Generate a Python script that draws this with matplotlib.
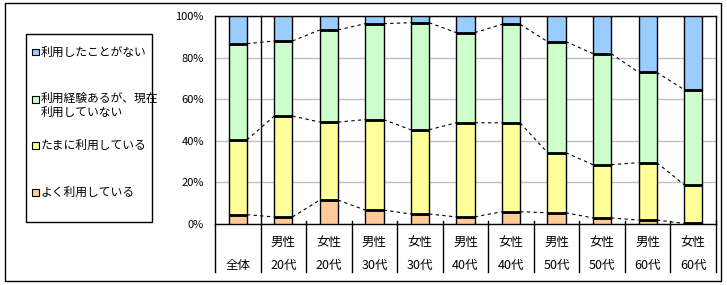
import numpy as np
import matplotlib
matplotlib.use("Agg")
import matplotlib.pyplot as plt
from matplotlib.patches import Rectangle

plt.rcParams['font.family'] = ['Noto Sans CJK JP', 'DejaVu Sans']

# data (percent)
top_labels = ["", "男性", "女性", "男性", "女性", "男性", "女性", "男性", "女性", "男性", "女性"]
bottom_labels = ["全体", "20代", "20代", "30代", "30代", "40代", "40代", "50代", "50代", "60代", "60代"]
series_names = ["よく利用している", "たまに利用している", "利用経験あるが、現在\n利用していない", "利用したことがない"]
yoku = [4.5, 3.4, 11.5, 6.7, 4.8, 3.4, 5.9, 5.4, 2.9, 1.9, 0.3]
tamani = [35.9, 48.5, 37.5, 43.5, 40.5, 45.3, 42.7, 28.9, 25.6, 27.6, 18.6]
keiken = [46.3, 36.1, 44.3, 46.1, 51.5, 43.3, 47.4, 53.4, 53.4, 43.4, 45.7]
nai = [13.3, 12.0, 6.7, 3.7, 3.2, 8.0, 4.0, 12.3, 18.1, 27.1, 35.4]
colors = ["#FFCC99", "#FFFF99", "#CCFFCC", "#99CCFF"]

W, H = 727, 285
fig = plt.figure(figsize=(W / 100, H / 100), dpi=100)

# outer frame
fig.patches.append(Rectangle((4.5 / W, 1 - 281 / H), 716 / W, 278 / H,
                             transform=fig.transFigure, fill=False, ec="black", lw=1))

ax = fig.add_axes([215 / W, 1 - 224 / H, 501 / W, 208 / H])
x = np.arange(len(bottom_labels))
bw = 0.40
data = [yoku, tamani, keiken, nai]
bottom = np.zeros(len(x))
for vals, c in zip(data, colors):
    ax.bar(x, vals, bw, bottom=bottom, color=c, edgecolor="black", lw=1, zorder=3)
    bottom = bottom + np.array(vals)

# series lines between bars + thicker segment borders
cum = np.cumsum(np.array(data[:3]), axis=0)
for row in cum:
    for i in range(len(x) - 1):
        ax.plot([x[i] + bw / 2, x[i + 1] - bw / 2], [row[i], row[i + 1]],
                ls=(0, (3, 3)), color="black", lw=0.8, zorder=2)
    for i in range(len(x)):
        ax.plot([x[i] - bw / 2, x[i] + bw / 2], [row[i], row[i]], color="black", lw=2, zorder=4,
                solid_capstyle="butt")

ax.set_xlim(-0.5, len(x) - 0.5)
ax.set_ylim(0, 100)
ax.set_yticks([0, 20, 40, 60, 80, 100])
ax.set_yticklabels([f"{v}%" for v in range(0, 101, 20)], fontsize=8)
ax.tick_params(axis="y", length=0, pad=8)
ax.set_xticks([])
ax.grid(axis="y", color="#c0c0c0", lw=1, zorder=0)
for s in ["left", "right", "top", "bottom"]:
    ax.spines[s].set_color("black")
    ax.spines[s].set_linewidth(1)

# category separators and labels
drop = -48 / 208 * 100
ax.plot([-0.5, -0.5], [0, drop], color="black", lw=1, clip_on=False)
for i in range(len(x)):
    xb = i + 0.5
    ytop = 100 if i == 0 else 1.5
    ax.plot([xb, xb], [ytop, drop], color="black", lw=1, clip_on=False, zorder=4)
    if top_labels[i]:
        ax.text(i, -17.5 / 208 * 100 - 0.5, top_labels[i], ha="center", va="center", fontsize=9)
    ax.text(i, -41 / 208 * 100, bottom_labels[i], ha="center", va="center", fontsize=9)

# legend box
fig.patches.append(Rectangle((26 / W, 1 - 222 / H), 126 / W, 188 / H,
                             transform=fig.transFigure, fill=False, ec="black", lw=1))
leg_y = [52, 105, 145, 192]
sq_y = [52, 99, 145, 192]
for name, c, yy, sy in zip(series_names[::-1], colors[::-1], leg_y, sq_y):
    fig.patches.append(Rectangle((32 / W, 1 - (sy + 3.5) / H), 6.5 / W, 6.5 / H,
                                 transform=fig.transFigure, fc=c, ec="black", lw=0.8))
    fig.text(41 / W, 1 - yy / H, name, fontsize=8.5, va="center", ha="left", linespacing=1.1)

fig.savefig("out.png", dpi=100)
